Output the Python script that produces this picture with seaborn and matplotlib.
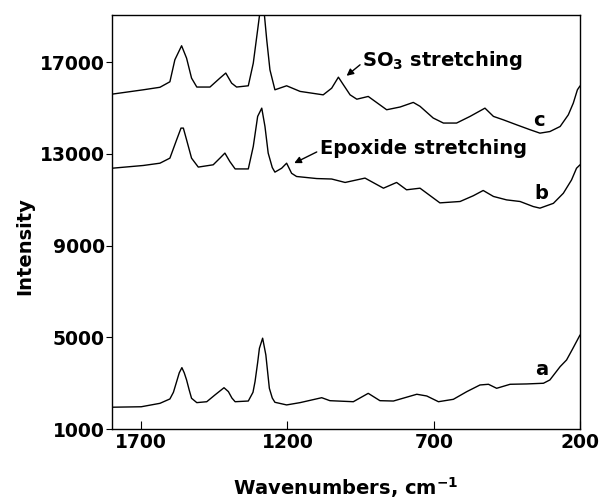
import pandas as pd
import seaborn as sns
import matplotlib.pyplot as plt

# Raman spectra (wavenumber in cm-1, intensity)
wn_a = [1800, 1750, 1700, 1636, 1602, 1590, 1579, 1570, 1561, 1553, 1545, 1536,
        1528, 1510, 1476, 1448, 1417, 1402, 1390, 1379, 1334, 1318, 1311, 1302,
        1296, 1285, 1274, 1268, 1262, 1252, 1243, 1203, 1157, 1083, 1055, 975,
        924, 884, 838, 758, 724, 684, 633, 587, 542, 513, 485, 439, 382, 325,
        303, 268, 246, 225, 200]
int_a = [1950, 1960, 1970, 2120, 2310, 2600, 3065, 3450, 3675, 3450, 3140, 2700,
         2340, 2150, 2190, 2485, 2800, 2630, 2350, 2190, 2220, 2600, 3065, 3900,
         4520, 4960, 4230, 3500, 2775, 2350, 2165, 2050, 2150, 2365, 2235, 2190,
         2555, 2235, 2220, 2515, 2440, 2190, 2295, 2630, 2920, 2950, 2775, 2950,
         2965, 2995, 3140, 3720, 4010, 4500, 5100]

wn_b = [1800, 1693, 1636, 1602, 1579, 1564, 1556, 1545, 1528, 1505, 1454, 1431,
        1414, 1397, 1379, 1334, 1317, 1302, 1288, 1277, 1266, 1252, 1243, 1220,
        1203, 1186, 1169, 1100, 1049, 1003, 935, 872, 827, 793, 747, 679, 610,
        565, 531, 496, 451, 405, 360, 337, 291, 257, 229, 212, 200]
int_b = [12370, 12490, 12590, 12810, 13610, 14120, 14120, 13610, 12810, 12420,
         12520, 12810, 13030, 12660, 12340, 12340, 13320, 14630, 14990, 14190,
         13030, 12400, 12200, 12370, 12590, 12150, 12010, 11920, 11900, 11750,
         11940, 11500, 11750, 11430, 11500, 10860, 10920, 11170, 11400, 11140,
         10990, 10920, 10700, 10630, 10840, 11280, 11860, 12370, 12520]

wn_c = [1800, 1693, 1636, 1602, 1585, 1562, 1545, 1528, 1510, 1465, 1431, 1411,
        1391, 1374, 1334, 1317, 1302, 1294, 1287, 1280, 1271, 1260, 1243, 1203,
        1157, 1078, 1049, 1026, 1009, 986, 963, 924, 861, 815, 770, 747, 702,
        667, 622, 576, 525, 496, 462, 416, 371, 337, 303, 268, 240, 223, 209, 200]
int_c = [15600, 15790, 15900, 16140, 17100, 17710, 17170, 16300, 15910, 15910,
         16300, 16520, 16080, 15910, 15965, 16950, 18410, 19200, 19600, 19200,
         17970, 16660, 15790, 15965, 15720, 15570, 15860, 16340, 16010, 15570,
         15380, 15500, 14920, 15040, 15240, 15070, 14560, 14340, 14340, 14630,
         14990, 14630, 14480, 14260, 14050, 13900, 13970, 14190, 14700, 15210,
         15790, 15960]

df = pd.concat([
    pd.DataFrame({"wn": wn_a, "intensity": int_a, "sample": "a"}),
    pd.DataFrame({"wn": wn_b, "intensity": int_b, "sample": "b"}),
    pd.DataFrame({"wn": wn_c, "intensity": int_c, "sample": "c"}),
])

sns.set_style("ticks")
plt.rcParams["font.family"] = ["DejaVu Sans"]
plt.rcParams["font.weight"] = "bold"
plt.rcParams["text.color"] = "black"
plt.rcParams["axes.labelcolor"] = "black"
plt.rcParams["xtick.color"] = "black"
plt.rcParams["ytick.color"] = "black"
plt.rcParams["mathtext.fontset"] = "custom"
plt.rcParams["mathtext.rm"] = "DejaVu Sans:bold"
plt.rcParams["mathtext.default"] = "rm"

fig = plt.figure(figsize=(6.03, 5.01), dpi=100)
ax = fig.add_axes([0.1857, 0.1437, 0.7762, 0.8263])

sns.lineplot(data=df, x="wn", y="intensity", units="sample", estimator=None,
             color="black", linewidth=1.0, legend=False, ax=ax)

ax.set_xlim(1800, 200)
ax.set_ylim(1000, 19050)
ax.set_xticks([1700, 1200, 700, 200])
ax.set_yticks([1000, 5000, 9000, 13000, 17000])
ax.tick_params(axis="x", direction="in", length=6, width=0.8, labelsize=13.5, pad=3)
ax.tick_params(axis="y", direction="out", length=4, width=0.8, labelsize=13.5, pad=1)
for s in ax.spines.values():
    s.set_visible(True)
    s.set_color("black")
    s.set_linewidth(1.0)

ax.set_xlabel("Wavenumbers, cm$^{-1}$", fontsize=14, fontweight="bold")
ax.xaxis.set_label_coords(0.5, -0.158)
ax.xaxis.label.set_va("baseline")
ax.set_ylabel("Intensity", fontsize=14, fontweight="bold", va="center")
ax.yaxis.set_label_coords(-0.186, 0.4425)

for lbl, x, y in [("c", 339, 14450), ("b", 331, 11280), ("a", 331, 3600)]:
    ax.text(x, y, lbl, fontsize=14, fontweight="bold", ha="center", va="center")

ax.text(946, 16810, "SO$_3$ stretching", fontsize=14, fontweight="bold",
        ha="left", va="baseline")
ax.annotate("", xy=(998, 16400), xytext=(952, 16880),
            arrowprops=dict(arrowstyle="-|>", color="black", lw=1.0,
                            mutation_scale=10, shrinkA=0, shrinkB=0))
ax.text(1089, 13000, "Epoxide stretching", fontsize=14, fontweight="bold",
        ha="left", va="baseline")
ax.annotate("", xy=(1177, 12593), xytext=(1100, 13080),
            arrowprops=dict(arrowstyle="-|>", color="black", lw=1.0,
                            mutation_scale=10, shrinkA=0, shrinkB=0))

fig.savefig("out.png", dpi=100)
